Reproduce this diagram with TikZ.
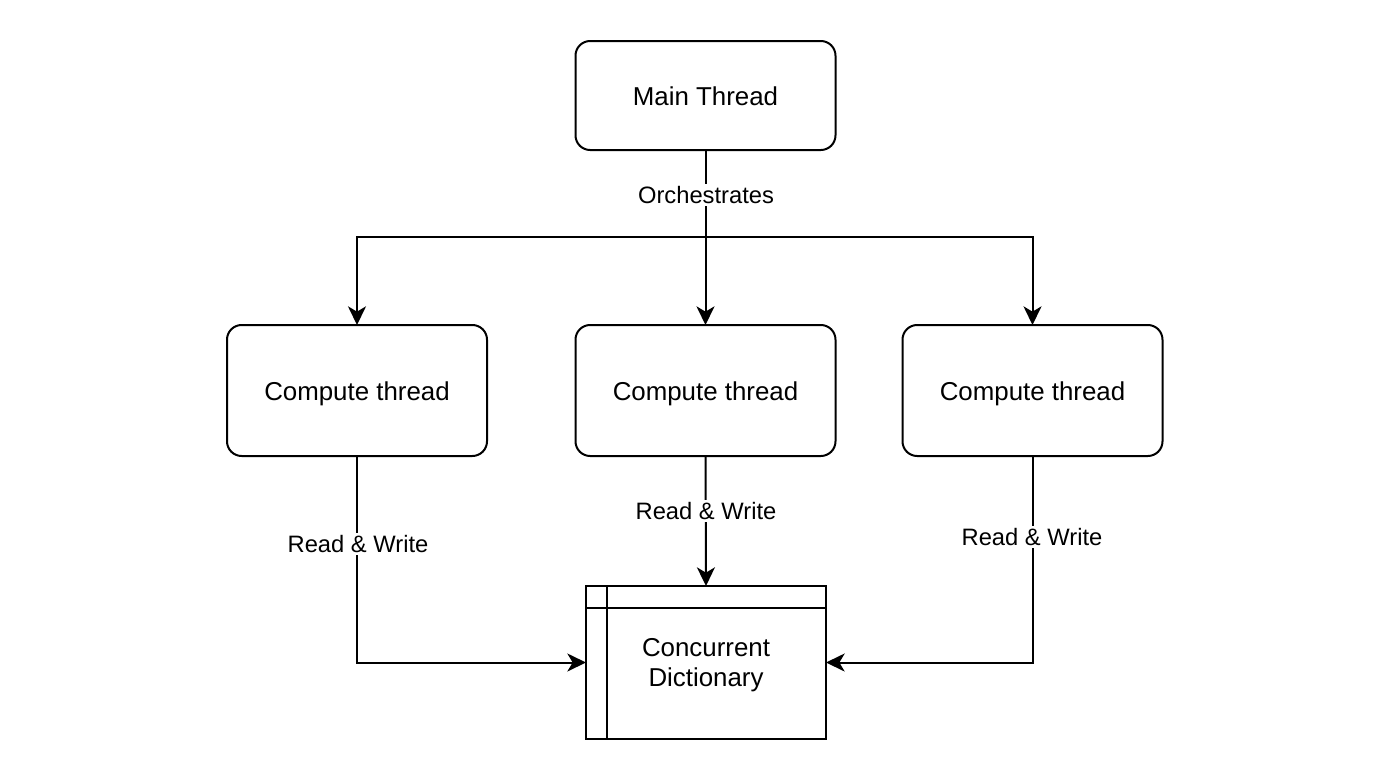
\documentclass[tikz,border=0pt]{standalone}
\usepackage{fontspec}
\setmainfont{Liberation Sans}
\usetikzlibrary{arrows.meta,calc}
\begin{document}
\begin{tikzpicture}[x=0.75pt,y=-0.75pt,
  thread/.style={draw,line width=1.5pt,rounded corners=11pt,inner sep=0pt,outer sep=0pt,
    minimum width=195pt,text height=15pt,text depth=0pt,font=\fontsize{19.4}{23}\selectfont},
  dictbox/.style={draw,line width=1.5pt,inner sep=0pt,outer sep=0pt,text depth=0pt,
    minimum width=180pt,minimum height=114.75pt,align=center,font=\fontsize{19.4}{23}\selectfont},
  conn/.style={line width=1.5pt,-{Stealth[length=14pt,width=13.5pt,inset=4pt]}},
  lbl/.style={fill=white,inner sep=2pt,font=\fontsize{17.8}{21}\selectfont}]
\useasboundingbox (0,0) rectangle (1400,776);
\node[thread,minimum height=81.75pt] (main) at (705.5,95.5) {Main Thread};
\node[thread,minimum height=98.25pt] (c1) at (357,390.5) {Compute thread};
\node[thread,minimum height=98.25pt] (c2) at (705.5,390.5) {Compute thread};
\node[thread,minimum height=98.25pt] (c3) at (1032.5,390.5) {Compute thread};
\node[dictbox] (dict) at (706,662.5) {Concurrent\\Dictionary};
\draw[line width=1.5pt] ($(dict.north west)+(21,0)$) -- ($(dict.south west)+(21,0)$);
\draw[line width=1.5pt] ($(dict.north west)+(0,22)$) -- ($(dict.north east)+(0,22)$);
\coordinate (bar) at (705.5,237);
\draw[line width=1.5pt] (main.south) -- (bar);
\draw[conn] (bar) -- (c2.north);
\draw[conn] (bar) -| (c1.north);
\draw[conn] (bar) -| (c3.north);
\node[lbl] (orch) at (706,195) {Orchestrates};
\draw[conn] (c1.south) |- (dict.west);
\draw[conn] (c2.south) -- (dict.north);
\draw[conn] (c3.south) |- (dict.east);
\node[lbl] (rw1) at (358,544) {Read \& Write};
\node[lbl] (rw2) at (706,511) {Read \& Write};
\node[lbl] (rw3) at (1032,537) {Read \& Write};
\end{tikzpicture}
\end{document}
